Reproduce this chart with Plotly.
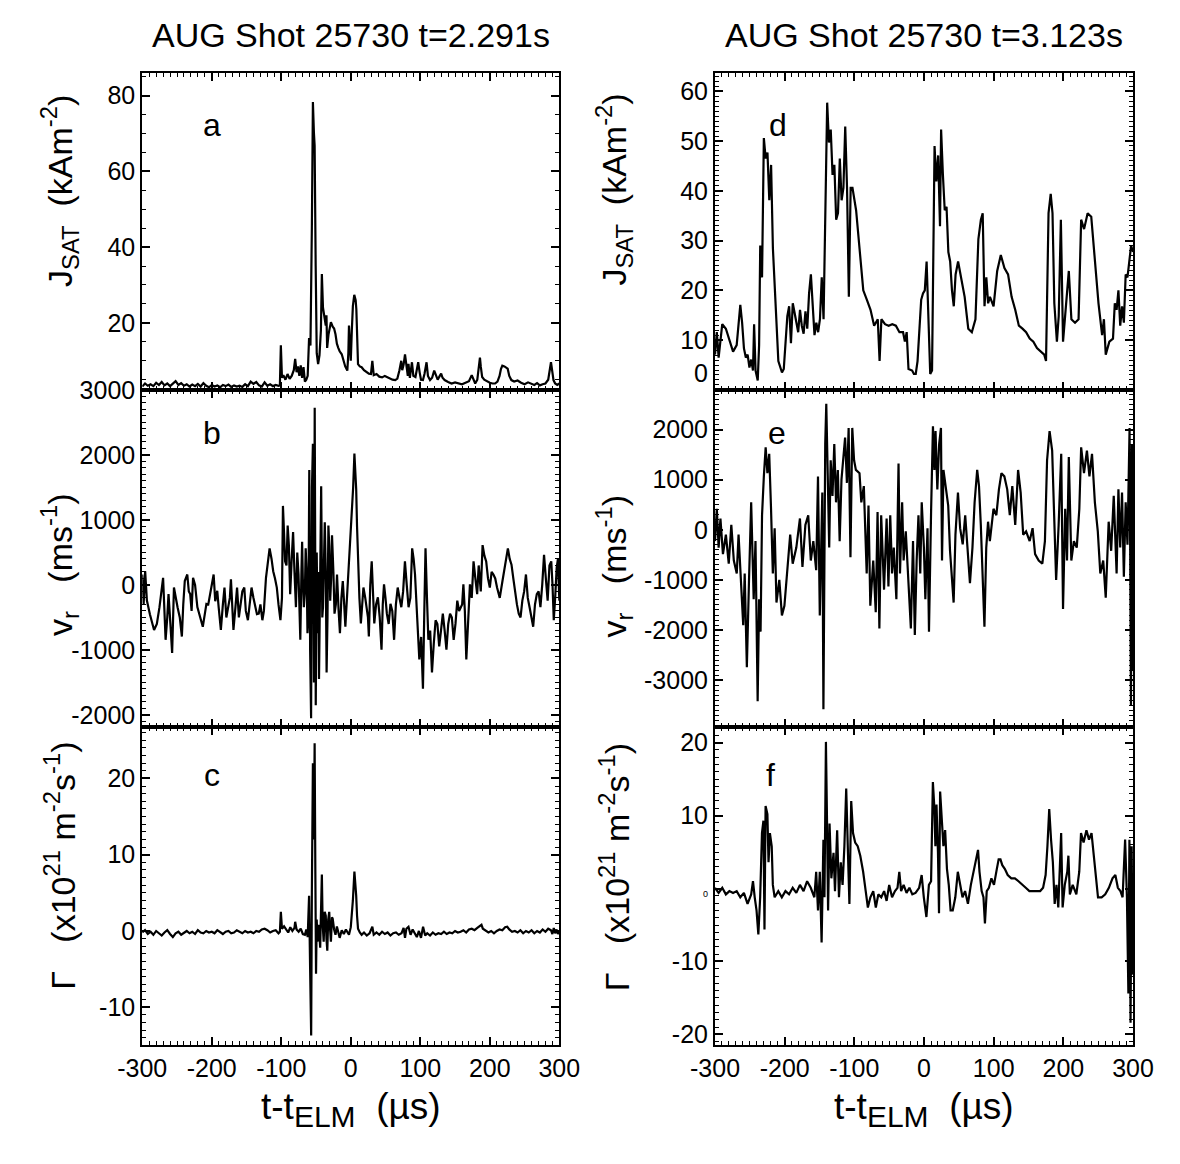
import plotly.graph_objects as go

# ---------------- data ----------------
t_a = [-300,-296,-292,-288,-284,-280,-276,-272,-268,-264,-260,-256,-252,-248,-244,-240,-236,-232,-228,-224,
       -220,-216,-212,-208,-204,-200,-196,-192,-188,-184,-180,-176,-172,-168,-164,-160,-156,-152,-148,-144,
       -140,-136,-132,-128,-124,-120,-116,-112,-108,-104,
       -102,-100.6,-99,-97,-94,-91,-88,-85,-82,-80,-78,-76,-74,-72,-70,-68,-66,-64,-62,-60,-58,-56,-54.5,-53,-52,
       -50.5,-49,-47,-45,-43,-41.6,-40,-38,-36,-35,-34,-32,-30,-28.6,-26,-24,-22,-20,-18,-16,-13,-10,-8,-5,-3.5,
       -2.6,-1.5,0,1.5,3,5,7,8,9,10.4,13,15.6,19,22,26,29,31,33,37,41,45,49,52,56,60,64,67,70,72.6,74,76,78,80,82,
       83,85,88,90,93,95,97,99,101,103.8,106,109,111,114,117,120,122,125,128,130,132,135,140,145,150,155,160,165,
       170,174,177,179,182,184,185.8,187,189,192,196,200,204,207.6,211,214,216,218,221,224,225.7,228,231,235,240,
       245,250,255,259.5,264,268,272,276,280,284,286,288,290,291.6,294,297,300]
jsat_a = [3.2,4.0,3.4,3.8,3.3,4.2,3.6,4.4,3.5,4.0,3.3,3.9,4.6,3.6,4.1,3.4,3.8,3.2,3.7,3.3,
          3.9,3.2,4.1,3.4,3.0,3.6,3.2,3.5,3.0,3.6,3.3,3.7,3.1,3.5,3.2,3.4,3.1,3.8,3.3,4.5,
          3.9,4.4,3.5,3.2,4.3,3.4,3.8,3.3,3.6,3.4,
          3.5,14.1,5.5,6.2,5.0,6.5,5.2,6.0,7.5,10.5,7.0,8.5,6.0,8.8,5.5,8.3,4.5,5.0,6.0,16.0,14.0,45,78.3,70,66.8,
          35,12,9.1,11.5,18,32.9,24,21.9,19.3,22,13.4,17,19.5,20.2,19,18.5,17.0,14.5,13.4,12.5,11.7,9.5,8.5,7.4,12,
          19.3,14,10,18,24.4,27.4,26,23.6,15,9.1,8.5,8.3,7.5,7.0,6.6,6.5,10,6.2,6.5,5.8,5.6,6.0,5.7,5.2,5.0,4.9,5.3,7.5,10,7.5,9.0,11.7,8.0,6.0,
          9.2,5.5,9.6,6.0,5.7,8.0,9.6,7.0,5.0,4.9,6.5,9.6,6.0,4.9,5.5,7.4,6.5,5.0,6.0,6.6,5.5,4.9,4.4,4.0,4.3,4.0,3.8,4.2,
          4.6,6.2,5.0,4.0,5.0,8.0,10.8,8.5,5.7,5.0,4.5,4.2,4.0,4.0,4.5,6.0,7.8,8.7,8.5,8.2,7.9,6.0,4.9,4.5,4.8,
          4.2,3.8,4.3,4.0,3.6,4.1,3.5,3.8,4.0,5.0,7.5,9.6,7.0,4.9,4.0,3.6,4.0]

# panel b: main readings plus the in-between readings of the dense band
t_b_main = [-300,-295.8,-293.3,-283,-275.2,-270,-266.4,-262.2,-257,-254.4,-249.2,-243,-238.8,-235.2,-231,-226.9,-220.7,
       -212.9,-207.7,-202.5,-197.3,-192.1,-186.9,-181.7,-176.5,-172.4,-168.8,-163.6,-158.4,-153.2,-148,-142.8,-137.6,
       -132.4,-127.2,-122,-116.8,-111.6,-106.4,-101.2,-97.6,-94.5,-90.8,-87.2,-83,-78.9,-75.2,-72.6,-70,-67.5,-64.9,
       -62.3,-59.7,-57.1,-54.5,-51.9,-50.4,-47.8,-45.7,-42.6,-40,-37.4,-34.8,-32.2,-29.6,-27,-23.4,-19.8,-15.6,-11.5,
       -7.8,-2.6,1.6,5.2,7.8,10.4,14.5,18.2,23.4,26,30.1,33.8,39,44.2,47.8,51.9,57.1,62.3,67.5,72.7,77.9,83.1,88.3,
       92.4,98.6,103.8,107.5,111.6,116.8,122,127.2,132.4,137.6,142.8,148,153.2,158.4,162,166.2,171.4,176.6,181.8,
       189.6,194.8,200,205.2,210.4,218.2,226,231.2,236.4,241.6,246.8,252,257.2,262.4,267.6,272.8,278,283.2,288.4,
       292,296.2,300]
vr_b_main = [160,211,-241,-693,-342,110,-844,-141,-1045,-40,-342,-794,60,161,-141,110,-342,
        -643,-291,-141,161,-90,-693,-40,-342,85,-693,-40,-241,-40,-543,-40,-342,
        -442,-543,110,563,211,-40,-543,1216,362,915,-141,814,-342,161,-844,663,-342,563,
        -744,1769,-2050,2171,2724,-1849,-744,-1447,1518,-342,965,-1347,915,-241,764,-442,161,-744,60,
        -643,362,1065,2020,1467,261,-593,-40,-442,-794,362,-593,-191,-995,10,-442,-291,-844,-40,-342,362,-342,563,
        161,-1146,-1598,563,-844,-1347,-543,-945,-442,-995,-442,-844,-241,-342,10,-1146,10,362,-141,
        613,362,-40,161,-40,60,563,312,-141,-442,-241,161,-342,-643,-141,-342,462,-241,362,
        -543,261,-241]
t_b_fill = [-298,-289,-279,-268,-264,-259.5,-252,-246,-241,-233,-229,-224,-217,-210,-205,-200,-195,-190,-184,-179,
            -174,-170.5,-166,-161,-156,-151,-145,-140,-135,-130,-125,-119,-114,-109,-104,-99,-96,-92.5,-89,-85,
            -81,-77,-74,-71,-69,-66,-63.5,-61,-58.5,-55.8,-53,-49,-46.5,-44,-41,-38.7,-36,-33.5,-31,-28.3,
            -25,-21.5,-17.5,-13.5,-9.5,-5,-0.5,3.4,6.5,9,12.4,16.3,20.8,24.7,28,32,36.4,41.6,46,49.9,
            54.5,59.7,64.9,70.1,75.3,80.5,85.7,90.4,95.5,101.2,105.6,109.6,114.2,119.4,124.6,129.8,135,140.2,145.4,150.6,
            155.8,160.2,164.1,168.8,174,179.2,184,187,192.2,197.4,202.6,207.8,214.3,222.1,228.6,233.8,239,244.2,249.4,254.6,
            259.8,265,270.2,275.4,280.6,285.8,290.2,294,298]
vr_b_fill = [-300,-450,-600,-300,-500,-600,-200,-500,-300,-100,-400,0,-500,-450,-300,0,-250,-350,-300,-500,
             -200,-300,-350,-500,-100,-400,-250,-200,-450,-300,-400,350,400,100,-300,-200,800,300,600,400,
             200,500,-300,200,100,-100,200,-500,-1000,1500,-1500,500,200,900,-500,300,200,-500,600,100,
             200,-300,-400,-200,-300,-100,600,1500,1800,900,-200,-300,-200,-500,0,-200,-300,-500,-300,-200,
             -600,-400,-300,-200,-100,0,-200,400,-500,-800,-500,-200,-700,-900,-600,-700,-700,-600,-500,-600,
             -400,-300,-400,-500,-200,100,300,-100,450,100,200,100,-200,300,400,100,-300,-500,-100,-200,
             -500,-300,-100,0,100,300,0,-200,400]
_b = sorted(zip(t_b_main + t_b_fill, vr_b_main + vr_b_fill))
t_b = [p[0] for p in _b]
vr_b = [p[1] for p in _b]

t_c = [-300,-296,-292,-288,-284,-280,-276,-272,-268,-264,-260,-256,-252,-248,-244,-240,-236,-232,-228,-224,
       -220,-216,-212,-208,-204,-200,-196,-192,-188,-184,-180,-176,-172,-168,-164,-160,-156,-152,-148,-144,
       -140,-136,-132,-128,-124,-120,-116,-112,-108,-104,
       -102,-100.6,-99,-96,-93,-90,-87,-84,-81,-80,-78,-75,-72,-69,-66,-64,-62,-60,-58.5,-57,-56,-54.5,-53,-52,-51,
       -50,-49,-48,-46,-44,-43,-41.6,-40.5,-39,-37.5,-36,-35,-33.8,-32.5,-31,-30,-28.6,-27,-26,-24,-22,-20,-18,-16,
       -13,-10,-7,-4,-2.6,0,1.5,3,5.2,7,7.8,9,10.4,13,15.6,19,23,27,31,33,37,41,45,49,53,57,61,65,69,73,76,78,80,83,
       86,89,92,95,98,101,104,107,110,114,118,122,126,130,134,138,142,146,150,154,158,162,166,170,174,178,182,186,
       188,190,194,198,202,206,210,214,218,222,225,228,232,236,240,244,248,252,256,260,264,268,272,276,280,284,288,
       290,292,294,296,298,300]
gam_c = [-0.2,0.1,-0.4,-0.1,-0.5,0.0,-0.3,-0.6,-0.2,0.1,-0.4,-0.8,-0.3,-0.1,-0.5,-0.2,0.0,-0.3,-0.1,-0.4,
         0.1,-0.2,-0.3,0.0,-0.2,-0.1,-0.3,0.1,-0.2,-0.4,-0.1,0.0,-0.3,-0.2,0.1,-0.1,-0.3,0.0,-0.2,-0.1,
         -0.3,0.0,-0.1,0.2,0.3,0.1,-0.2,0.0,0.1,-0.3,
         -0.1,2.5,0.3,0.6,0.1,-0.2,0.5,0.0,0.4,1.2,0.2,-0.1,0.3,-0.4,-0.5,0.2,-0.8,4.6,-5,-13.7,5,22,12,24.6,8,
         -5.6,1.5,-1.4,0.8,-2.2,2.0,7.4,1.0,-1.4,2.5,2.0,-1.0,-2.6,1.5,2.5,0.5,-1.4,1.8,1.6,0.2,-0.5,0.6,-0.3,-0.9,
         0.1,-0.4,0.2,-0.3,-0.5,0.5,2.0,4.0,7.8,6.0,4.6,2.0,0.3,-0.2,-0.5,-0.2,-0.6,-0.3,0.55,-0.5,-0.2,-0.5,-0.1,-0.4,-0.2,-0.6,-0.3,-0.2,-0.5,-0.3,0.4,-0.9,0.3,0.55,
         -0.5,0.2,-0.4,-0.8,0.0,-0.9,0.55,-0.6,-0.3,-0.6,-0.2,-0.5,-0.3,-0.4,-0.1,-0.4,-0.2,-0.3,0.0,-0.2,-0.1,0.1,-0.2,0.2,0.3,0.1,0.4,0.6,
         0.8,0.3,0.1,-0.2,0.0,-0.3,0.0,0.2,0.1,0.5,0.55,0.2,-0.1,0.0,-0.2,0.1,-0.3,0.0,-0.2,0.1,-0.3,0.0,-0.2,0.2,-0.1,0.3,0.1,
         -0.4,0.4,-0.3,0.2,-0.4,0.0]

t_d = [-300,-297.4,-294.8,-292.2,-289.6,-284.4,-279.2,-274.1,-268.9,-263.7,-261.1,-258.5,-255.8,-253.2,-250.6,-248.1,
       -245.5,-243.9,-241.8,-238.7,-236.7,-235.1,-232.5,-229.9,-227.3,-224.7,-222.1,-219.5,-216.9,-212.8,-209.1,-203.9,
       -201.3,-196.2,-193.6,-191,-188.4,-185.8,-180.6,-178,-175.4,-172.8,-170.2,-167.6,-165,-162.4,-159.8,-157.2,-154.6,
       -152,-149.4,-146.8,-144.2,-141.6,-139,-136.5,-133.9,-131.3,-128.7,-126.1,-123.5,-120.9,-118.3,-115.7,-113.1,
       -110.5,-107.9,-105.3,-102.7,-97.5,-92.3,-87.2,-82,-76.8,-71.6,-66.4,-63.8,-61.2,-56,-50.8,-45.6,-40.4,-35.3,
       -30.1,-27.5,-24.9,-22.3,-17.1,-14.5,-11.9,-9.3,-6.7,-4.1,-1.5,1.1,3.7,6.3,8.9,11.5,13.1,15.1,17.7,20.3,22.9,
       24.5,27.1,29.7,32.3,34.9,37.5,40.1,42.7,45.3,48.9,53.1,58.3,63.5,68.6,73.8,78,81.6,84.2,86.8,89.4,92,94.6,99.8,
       105,110.2,115.4,120.6,125.7,130.9,136.1,141.3,146.5,151.7,156.9,162.1,167.3,172.5,175.1,178.7,181.8,184.4,187,
       190.7,193.3,196.4,199.5,203.7,207.8,211.5,216.7,221.8,225.5,229.7,234.8,240,245.2,250.4,255.6,258.2,260.8,266,
       271.2,273.8,276.4,279,281.6,284.2,286.8,289.4,292,294.6,297.2,300]
jsat_d = [7.1,11.6,6.5,10.3,13.2,12.3,9.7,7.7,9.0,17.1,13.5,8.4,6.5,7.1,4.5,6.1,
          3.9,13.2,3.9,1.9,9.0,29,22.6,50.6,46.5,47.7,38.1,45.2,28.4,17.4,5.8,3.5,
          4.2,14.8,16.8,9.4,17.4,15.5,11.6,16.1,12.9,11.3,15.8,12.3,19.4,23.2,17.4,11.0,13.5,
          11.6,14.2,22.6,14.2,38.7,57.7,49.7,52.3,43.2,45.2,34.2,35.5,46.5,38.1,40.6,52.9,
          40.6,18.7,40.6,40.6,36.1,27.7,20,18.1,16.1,12.9,14.2,5.8,14.2,13.2,12.9,13.2,12.9,11.6,
          11.6,9.7,11.6,4.2,3.9,3.2,3.2,5.8,11.0,18.1,19.4,20,25.8,14.8,3.2,3.9,32.3,49,41.9,47.1,32.9,
          52.3,43.2,36.1,36.8,27.7,25.8,20,16.8,23.2,25.8,22.6,18.7,12.3,11.6,14.2,30.3,34.2,35.5,16.8,22.6,17.4,18.7,16.8,
          23.9,27.1,24.5,23.2,18.7,16.1,12.9,12.3,11.6,10.3,9.7,8.4,7.7,7.1,5.8,35.5,39.4,35.5,17.4,
          9.7,14.8,34.2,9.7,17.4,23.9,14.2,13.5,14.2,34.2,32.3,35.5,34.8,26.5,17.4,11.0,14.2,7.1,9.7,
          10.3,17.4,16.1,20,12.9,16.8,13.5,23.2,22.6,26.5,29,27.7]

t_e = [-300,-297.4,-294.8,-292.2,-288.6,-284.4,-280.3,-276.6,-273,-268.8,-266.2,-262.6,-259.5,-257.4,-254.3,-251.2,
       -248.1,-244.5,-241.9,-238.8,-236.7,-234.6,-232.5,-229.9,-227.3,-224.8,-222.2,-219.6,-217,-214.4,-211.8,-207.7,
       -204,-200.4,-196.3,-192.1,-188.5,-183.3,-178.1,-174.5,-170.3,-166.2,-162.5,-158.9,-154.8,-152.2,-149.6,-146,
       -144.4,-141.8,-140.3,-138.2,-136.1,-134,-131.4,-128.8,-126.3,-123.7,-121.1,-118.5,-115.9,-113.3,-110.7,-108.2,
       -105.6,-103,-100.4,-97.8,-92.6,-90,-86.4,-82.3,-79.7,-77.1,-72.9,-69.3,-66.7,-64.1,-61.5,-57.4,-53.7,-51.1,
       -48.5,-45.9,-43.4,-39.7,-36.6,-34.5,-31.4,-29.3,-26.2,-22.5,-18.9,-15.8,-13.2,-10.6,-8,-5.4,-3.3,-0.2,1.9,5,
       7.1,10.2,12.8,14.9,16.5,19.1,21.7,24.3,25.8,27.9,31,34.7,37.3,39.9,42.5,45.1,48.7,51.8,55.5,59.1,63.3,65.9,
       69.5,72.6,76.3,78.9,81.5,84.1,86.7,89.3,91.9,94.5,99.7,103.8,107.5,111.1,115.3,119.4,123.1,126.7,130.9,135,
       138.7,142.3,146.5,151.6,155.8,159.4,164.6,169.8,173.5,176.6,180.2,183.9,187,189.6,193.2,196.9,199.5,202.6,
       205.2,207.8,211.4,215.1,219.2,222.9,225.5,229.6,233.8,237.4,241.1,245.2,249.4,253,257.2,260.8,265,268.6,
       272.3,276.4,279,281.6,284.2,286.8,289.4,292,295,297,298.4,300]
vr_e = [-226,419,-355,226,-484,-97,-677,97,-613,-871,-97,-1129,-1903,-871,-2742,-1000,
        548,-1387,-226,-3419,-1387,-2032,290,1065,1645,1129,1516,419,-871,32,-1452,-1000,
        -1710,-1516,-871,-97,-677,-355,226,-742,97,290,-613,-226,-806,1065,-1710,742,
        -3581,1710,2516,1065,-355,1387,677,1710,548,1194,-226,1000,1387,1839,935,2032,
        -548,2032,1387,1194,1129,548,871,-871,484,-1516,-613,-1645,355,-1968,290,-1194,226,-1129,
        290,-871,-355,-1387,1323,-871,548,-613,-32,-1129,-1968,-226,-2097,-613,290,-871,548,-355,-1387,32,
        -2032,419,2065,1194,1968,806,1710,2032,-613,1194,871,484,-419,-871,-1452,-97,742,32,-290,290,-613,-1065,
        -355,548,1194,871,97,-871,-1935,-355,161,-226,419,290,806,1129,1065,806,290,871,97,1194,
        742,-97,-32,-226,32,-484,-613,-677,-226,1387,1968,1581,290,-1000,97,1516,-1581,419,
        -613,1452,-613,-226,-355,419,1645,1129,1581,1065,1516,548,-32,-871,-613,-1355,161,-419,
        677,-871,806,-355,742,-935,548,-300,2032,-3516,1710,-2806]

t_f = [-300,-294.8,-289.6,-284.4,-279.3,-274.1,-268.9,-263.7,-258.5,-253.3,-248.1,-245.5,-243,-240.4,-237.8,-235.2,
       -232.6,-230.5,-229,-227.4,-224.8,-223.2,-221.2,-218.6,-217,-214.4,-209.2,-204.1,-198.9,-193.7,-188.5,-183.3,
       -178.1,-172.9,-167.8,-162.6,-157.4,-154.8,-152.2,-149.6,-147,-144.4,-142.9,-140.8,-139.2,-137.7,-135.6,-133,
       -129.9,-127.8,-124.7,-122.1,-119.5,-116.9,-114.3,-111.7,-109.2,-107.1,-104.5,-101.9,-98.8,-95.2,-91.5,-87.4,
       -83.7,-80.6,-77,-72.9,-69.2,-65.6,-61.4,-57.3,-53.7,-50,-45.9,-41.7,-38.1,-35.5,-32.9,-29.3,-25.1,-21,-16.8,
       -12.2,-7,-3.4,-0.3,3.4,7,10.1,12.7,14.8,16.3,17.9,20,21.5,23.1,25.2,27.8,30.3,32.9,35.5,38.1,41.2,44.9,48.5,
       51.6,55.2,58.9,63,67.2,70.8,74.4,77.5,79.6,82.7,85.3,87.4,90,93.1,96.7,100.4,104.5,107.1,109.7,112.3,115.9,
       120.1,125.3,130.4,135.6,140.8,146,151.2,156.4,161.6,166.7,170.9,174.5,177.1,179.7,182.3,184.9,187.5,190.1,
       192.7,195.3,196.8,198.9,202,205.6,207.2,209.3,213.4,218.6,222.8,225.3,229,233.1,236.8,240.4,243.5,247.1,
       249.7,254.9,260.1,265.3,270.5,274.6,278.2,281.9,285,288.6,291.2,293.3,294.8,296.4,298,299.5]
gam_f = [0.1,-0.6,0.1,-0.8,-0.35,-0.6,-0.35,-1.2,-0.6,-2.1,-0.8,1.0,-1.2,-3.0,-6.3,-1.2,
         7.6,9.3,-5.6,11.3,10.2,3.6,7.6,5.8,0.5,-1.2,-0.35,-1.2,-0.35,-0.8,0.1,-0.6,
         0.5,-0.35,1.0,0.1,-1.2,2.3,-3.0,2.3,-7.4,6.7,-1.2,20.1,8.9,-3.0,8.9,1.4,
         4.9,-0.35,8.0,-1.2,3.6,0.5,5.8,13.7,4.9,-2.1,12.0,7.6,6.3,5.8,4.5,2.3,
         -0.35,-2.6,-1.2,-0.35,-2.6,-0.8,-1.2,-0.35,-1.7,0.5,-1.2,-0.35,0.1,2.3,-0.35,0.5,-0.6,0.1,-0.8,
         -0.6,0.1,1.85,-1.2,-3.9,0.5,1.0,14.6,11.1,5.8,11.5,4.9,-3.4,13.3,9.3,5.8,8.0,2.7,0.5,-3.0,-3.0,-1.2,2.3,
         0.5,-1.2,-0.35,-2.1,0.5,2.3,4.0,5.3,2.3,-0.35,-1.2,-4.8,-0.35,0.1,1.4,0.5,2.7,4.0,4.0,3.2,2.7,
         1.85,1.4,1.4,1.0,0.5,0.1,-0.35,-0.35,-0.35,-0.35,0.1,1.85,5.8,10.9,6.7,3.6,-2.1,0.5,
         -2.6,4.9,7.6,-2.6,0.5,2.3,4.5,-0.8,0.5,-0.8,2.3,7.6,6.3,8.0,6.7,7.6,4.9,1.4,
         -1.2,-1.2,-0.8,0.1,1.4,1.85,0.1,-0.35,-1.2,6.7,-1.2,-14.4,6.7,-18.4,5.8,-11.8]

x_ticks = [-300, -200, -100, 0, 100, 200, 300]
x_ticklabels = ["-300", "-200", "-100", "0", "100", "200", "300"]
ya_ticks = [20, 40, 60, 80]
yb_ticks = [-2000, -1000, 0, 1000, 2000, 3000]
yc_ticks = [-10, 0, 10, 20]
yd_ticks = [0, 10, 20, 30, 40, 50, 60]
ye_ticks = [-3000, -2000, -1000, 0, 1000, 2000]
yf_ticks = [-20, -10, 0, 10, 20]

titles = ["AUG Shot 25730 t=2.291s", "AUG Shot 25730 t=3.123s"]
panel_letters = ["a", "b", "c", "d", "e", "f"]

# ---------------- figure ----------------
W, H = 1180, 1164
FONT = "Liberation Sans, Arial, Helvetica, sans-serif"

def px_x(p):
    return p / W

def px_y(p):
    return 1 - p / H

col_dom = [[px_x(122), px_x(556)], [px_x(718), px_x(1153)]]
row_dom = [[px_y(390), px_y(61)], [px_y(740), px_y(390)], [px_y(1070), px_y(740)]]

panels = [
    dict(t=t_a, v=jsat_a, col=0, row=0, rng=[2.3, 86], ticks=ya_ticks, minor=5),
    dict(t=t_b, v=vr_b, col=0, row=1, rng=[-2190, 3000], ticks=yb_ticks, minor=100),
    dict(t=t_c, v=gam_c, col=0, row=2, rng=[-15, 26.7], ticks=yc_ticks, minor=1),
    dict(t=t_d, v=jsat_d, col=1, row=0, rng=[0, 63.7], ticks=yd_ticks, minor=1),
    dict(t=t_e, v=vr_e, col=1, row=1, rng=[-3940, 2790], ticks=ye_ticks, minor=100),
    dict(t=t_f, v=gam_f, col=1, row=2, rng=[-21.5, 22.1], ticks=yf_ticks, minor=1),
]

fig = go.Figure()
layout = dict(width=W, height=H, margin=dict(l=0, r=0, t=0, b=0),
              paper_bgcolor="white", plot_bgcolor="white", showlegend=False,
              font=dict(family=FONT, color="black", size=24))

for i, p in enumerate(panels):
    n = i + 1
    xa = "x" if n == 1 else f"x{n}"
    ya = "y" if n == 1 else f"y{n}"
    fig.add_trace(go.Scatter(x=p["t"], y=p["v"], mode="lines",
                             line=dict(color="black", width=2.2),
                             xaxis=xa, yaxis=ya, hoverinfo="skip"))
    bottom = p["row"] == 2
    xdef = dict(
        domain=col_dom[p["col"]], anchor=ya, range=[-300, 300],
        showline=True, linecolor="black", linewidth=2, mirror="allticks",
        ticks="inside", ticklen=8, tickwidth=1.5, tickcolor="black",
        tickvals=x_ticks, showgrid=False, zeroline=False,
        minor=dict(ticks="inside", ticklen=4, tickwidth=1, tickcolor="black", dtick=10, showgrid=False))
    if bottom:
        xdef.update(ticktext=x_ticklabels, showticklabels=True, tickfont=dict(size=25, family=FONT))
    else:
        xdef.update(showticklabels=False)
    layout["xaxis" if n == 1 else f"xaxis{n}"] = xdef
    if p["col"] == 1 and p["row"] == 2:
        ttext = [str(v) if v != 0 else "<span style='font-size:9px'>0</span>" for v in p["ticks"]]
    elif p["col"] == 1 and p["row"] == 0:
        ttext = [str(v) if v != 0 else "0<br><span style='font-size:14px'> </span>" for v in p["ticks"]]
    else:
        ttext = [str(v) for v in p["ticks"]]
    layout["yaxis" if n == 1 else f"yaxis{n}"] = dict(
        domain=row_dom[p["row"]], anchor=xa, range=p["rng"],
        showline=True, linecolor="black", linewidth=2, mirror="allticks",
        ticks="inside", ticklen=8, tickwidth=1.5, tickcolor="black",
        tickvals=p["ticks"], ticktext=ttext,
        tickfont=dict(size=25, family=FONT), showgrid=False, zeroline=False,
        minor=dict(ticks="inside", ticklen=4, tickwidth=1, tickcolor="black", dtick=p["minor"], showgrid=False))

NB = "\u00a0"
ytitles = [
    ("J<sub>SAT</sub>" + NB * 2 + "(kAm<sup>-2</sup>)", 36, 184),
    ("v<sub>r</sub>" + NB * 3 + "(ms<sup>-1</sup>)", 36, 572),
    ("Γ" + NB * 3 + "(x10<sup>21</sup> m<sup>-2</sup>s<sup>-1</sup>)", 36, 884),
    ("J<sub>SAT</sub>" + NB * 2 + "(kAm<sup>-2</sup>)", 613, 182),
    ("v<sub>r</sub>" + NB * 3 + "(ms<sup>-1</sup>)", 613, 573),
    ("Γ" + NB * 3 + "(x10<sup>21</sup> m<sup>-2</sup>s<sup>-1</sup>)", 613, 885),
]
ann = []
for txt, x, y in ytitles:
    ann.append(dict(text=txt, x=px_x(x), y=px_y(y), xref="paper", yref="paper",
                    showarrow=False, textangle=-90, font=dict(size=34, family=FONT),
                    xanchor="center", yanchor="middle"))
xtitle = "t-t<sub><span style='font-size:30px'>ELM</span></sub>" + NB * 2 + "(µs)"
for j, ttl in enumerate(titles):
    cx = (col_dom[j][0] + col_dom[j][1]) / 2
    ann.append(dict(text=ttl, x=cx, y=px_y(22), xref="paper", yref="paper", showarrow=False,
                    font=dict(size=34, family=FONT), xanchor="center", yanchor="middle"))
    ann.append(dict(text=xtitle, x=cx, y=px_y(1136), xref="paper", yref="paper",
                    showarrow=False, font=dict(size=37, family=FONT), xanchor="center", yanchor="middle"))
letter_pos = [(195, 115), (195, 435), (195, 790), (784, 115), (782, 435), (776, 790)]
for L, (x, y) in zip(panel_letters, letter_pos):
    ann.append(dict(text=L, x=px_x(x), y=px_y(y), xref="paper", yref="paper", showarrow=False,
                    font=dict(size=32, family=FONT), xanchor="center", yanchor="middle"))
layout["annotations"] = ann

fig.update_layout(**layout)
fig.write_html("out.html")
